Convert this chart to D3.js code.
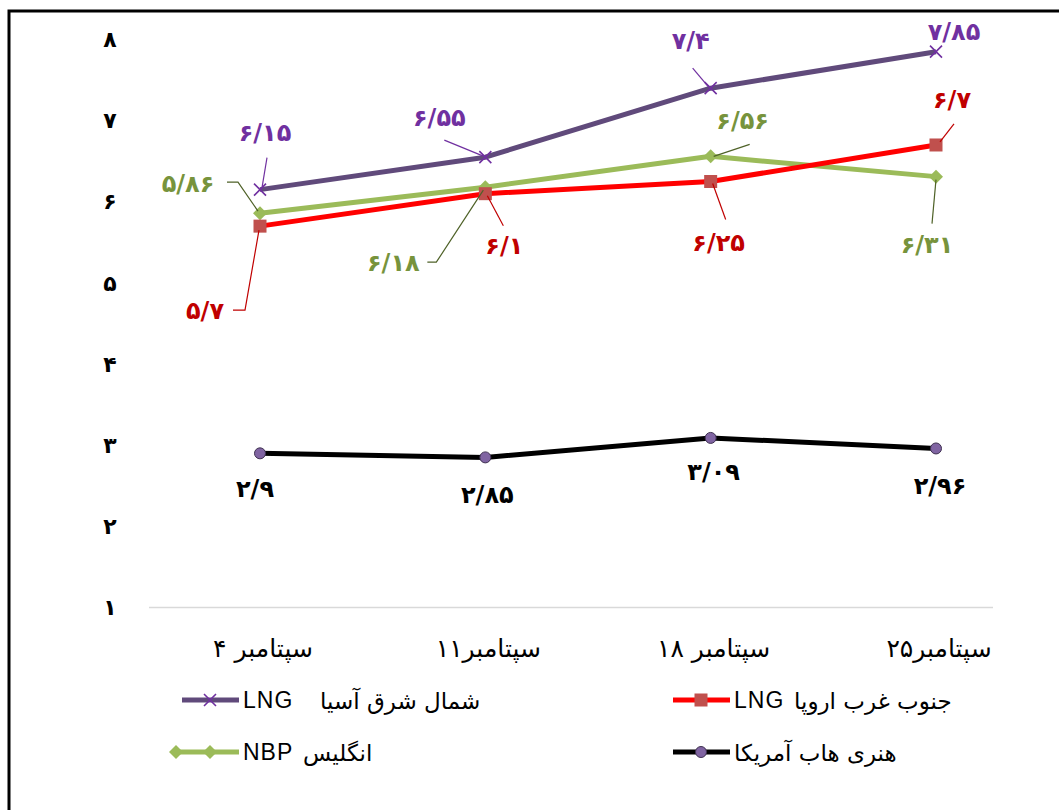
<!DOCTYPE html>
<html>
<head>
<meta charset="utf-8">
<script src="https://cdn.jsdelivr.net/npm/d3@7"></script>
<style>
  html, body { margin: 0; padding: 0; background: #fff; }
  svg { display: block; }
</style>
</head>
<body>
<div class="chart"></div>
<script>
// ---------- data
var categories = ["سپتامبر ۴", "سپتامبر۱۱", "سپتامبر ۱۸", "سپتامبر۲۵"];
var yTicks = [1, 2, 3, 4, 5, 6, 7, 8];

var asiaLng = [6.15, 6.55, 7.4, 7.85];
var europeLng = [5.7, 6.1, 6.25, 6.7];
var ukNbp = [5.86, 6.18, 6.56, 6.31];
var henryHub = [2.9, 2.85, 3.09, 2.96];

var seriesNames = ["شمال شرق آسیا", "جنوب غرب اروپا", "انگلیس", "هنری هاب آمریکا"];
var seriesTags = ["LNG", "LNG", "NBP", ""];

// ---------- label layout (offsets from the point, px)
var asiaLabels = [
  { dx: 5, dy: -57, lead: [[7, -32], [2, -2]] },
  { dx: -46, dy: -40, lead: [[-41, -17], [-2, -1]] },
  { dx: -20, dy: -48, lead: [[-18, -20], [-2, -1]] },
  { dx: 18, dy: -20, lead: null }
];
var europeLabels = [
  { dx: -55, dy: 84, lead: [[-27, 84], [-15, 84], [-1, 4]] },
  { dx: 19, dy: 52, lead: [[18, 32], [2, 2]] },
  { dx: 8, dy: 61, lead: [[15, 38], [2, 2]] },
  { dx: 16, dy: -45, lead: [[18, -21], [4, -3]] }
];
var ukLabels = [
  { dx: -72, dy: -30, lead: [[-33, -31], [-22, -31], [-2, -2]] },
  { dx: -92, dy: 75, lead: [[-58, 75], [-49, 75], [-2, 3]] },
  { dx: 32, dy: -36, lead: [[39, -12], [3, 0]] },
  { dx: -9, dy: 68, lead: [[-4, 47], [0, 3]] }
];
var henryLabels = [
  { dx: -5, dy: 35, lead: null },
  { dx: 2, dy: 37, lead: null },
  { dx: 3, dy: 34, lead: null },
  { dx: 4, dy: 37, lead: null }
];

var W = 1059, H = 810;
var persianFont = "'DejaVu Sans', sans-serif";

var svg = d3.select(".chart").append("svg")
  .attr("width", W).attr("height", H);

// outer frame
svg.append("rect")
  .attr("x", 9).attr("y", 11)
  .attr("width", W + 20).attr("height", H + 20)
  .attr("fill", "none").attr("stroke", "#000").attr("stroke-width", 3);

var x = d3.scalePoint().domain(categories).range([260, 936]);
var y = d3.scaleLinear().domain([1, 8]).range([607.5, 39.5]);

function fa(v) {
  var digits = "۰۱۲۳۴۵۶۷۸۹";
  return String(v).replace(/[0-9]/g, d => digits[+d]).replace(".", "/");
}

// y axis labels
svg.append("g").selectAll("text")
  .data(yTicks).enter().append("text")
  .attr("x", 110).attr("y", d => y(d))
  .attr("dy", "0.35em")
  .attr("text-anchor", "middle")
  .style("font-family", persianFont)
  .style("font-weight", "bold")
  .style("font-size", "22px")
  .attr("fill", "#000")
  .text(d => fa(d));

// baseline
svg.append("line")
  .attr("x1", 149).attr("x2", 993)
  .attr("y1", y(1)).attr("y2", y(1))
  .attr("stroke", "#d9d9d9").attr("stroke-width", 1.5);

// category labels
svg.append("g").selectAll("text")
  .data(categories).enter().append("text")
  .attr("x", d => x(d) + 3).attr("y", 657)
  .attr("text-anchor", "middle")
  .style("font-family", persianFont)
  .style("font-size", "25px")
  .attr("fill", "#000")
  .text(d => d);

var series = [
  { values: asiaLng, line: "#604A7B", marker: "x", mcolor: "#7030A0", label: "#7030A0", lead: "#7030A0", layout: asiaLabels },
  { values: europeLng, line: "#FF0000", marker: "square", mcolor: "#C0504D", label: "#C00000", lead: "#C00000", layout: europeLabels },
  { values: ukNbp, line: "#9BBB59", marker: "diamond", mcolor: "#9BBB59", label: "#77933C", lead: "#4F6228", layout: ukLabels },
  { values: henryHub, line: "#000000", marker: "circle", mcolor: "#8064A2", label: "#000000", lead: "#000", layout: henryLabels }
];

function drawMarker(g, type, color, cx, cy) {
  if (type === "x") {
    g.append("path")
      .attr("d", `M${cx - 6},${cy - 6}L${cx + 6},${cy + 6}M${cx + 6},${cy - 6}L${cx - 6},${cy + 6}`)
      .attr("stroke", color).attr("stroke-width", 1.6).attr("fill", "none");
  } else if (type === "square") {
    g.append("rect")
      .attr("x", cx - 6.5).attr("y", cy - 6.5)
      .attr("width", 13).attr("height", 13)
      .attr("fill", color);
  } else if (type === "diamond") {
    g.append("path")
      .attr("d", `M${cx},${cy - 7}L${cx + 7},${cy}L${cx},${cy + 7}L${cx - 7},${cy}Z`)
      .attr("fill", color);
  } else {
    g.append("circle")
      .attr("cx", cx).attr("cy", cy).attr("r", 5.5)
      .attr("fill", color).attr("stroke", "#3F3151").attr("stroke-width", 1);
  }
}

var line = d3.line().x((d, i) => x(categories[i])).y(d => y(d));

// draw in back-to-front order (Henry Hub, UK, Europe, Asia)
[3, 2, 1, 0].forEach(si => {
  var s = series[si];
  var g = svg.append("g");
  g.append("path")
    .datum(s.values)
    .attr("d", line)
    .attr("fill", "none")
    .attr("stroke", s.line)
    .attr("stroke-width", 5)
    .attr("stroke-linejoin", "round");
  s.values.forEach((v, i) => drawMarker(g, s.marker, s.mcolor, x(categories[i]), y(v)));
});

// data labels and leader lines
series.forEach(s => {
  var g = svg.append("g");
  s.values.forEach((v, i) => {
    var px = x(categories[i]), py = y(v);
    var lay = s.layout[i];
    if (lay.lead) {
      g.append("path")
        .attr("d", d3.line()(lay.lead.map(p => [px + p[0], py + p[1]])))
        .attr("fill", "none")
        .attr("stroke", s.lead)
        .attr("stroke-width", 1.2);
    }
    g.append("text")
      .attr("x", px + lay.dx).attr("y", py + lay.dy)
      .attr("dy", "0.35em")
      .attr("text-anchor", "middle")
      .style("font-family", persianFont)
      .style("font-weight", "bold")
      .style("font-size", "24px")
      .attr("fill", s.label)
      .text(fa(v));
  });
});

// legend
var legendPos = [
  { lx: 182, ly: 700 },
  { lx: 673, ly: 700 },
  { lx: 182, ly: 752 },
  { lx: 673, ly: 752 }
];

series.forEach((s, si) => {
  var p = legendPos[si];
  var g = svg.append("g");
  var x0 = si === 2 ? p.lx - 6 : p.lx;
  g.append("line")
    .attr("x1", x0).attr("x2", p.lx + 57)
    .attr("y1", p.ly).attr("y2", p.ly)
    .attr("stroke", s.line).attr("stroke-width", 5);
  if (si === 2) drawMarker(g, s.marker, s.mcolor, x0, p.ly);
  drawMarker(g, s.marker, s.mcolor, p.lx + 28, p.ly);
  var tx = p.lx + 61;
  if (seriesTags[si]) {
    g.append("text")
      .attr("x", tx).attr("y", p.ly)
      .attr("dy", "0.36em")
      .style("font-family", "'Liberation Sans', Arial, sans-serif")
      .style("font-size", "23px")
      .style("letter-spacing", "1px")
      .attr("fill", "#000")
      .text(seriesTags[si]);
    tx += si === 0 ? 77 : 60;
  }
  g.append("text")
    .attr("x", tx).attr("y", p.ly)
    .attr("dy", "0.38em")
    .attr("text-anchor", "start")
    .style("font-family", persianFont)
    .style("font-size", "23px")
    .attr("fill", "#000")
    .text(seriesNames[si]);
});
</script>
</body>
</html>
